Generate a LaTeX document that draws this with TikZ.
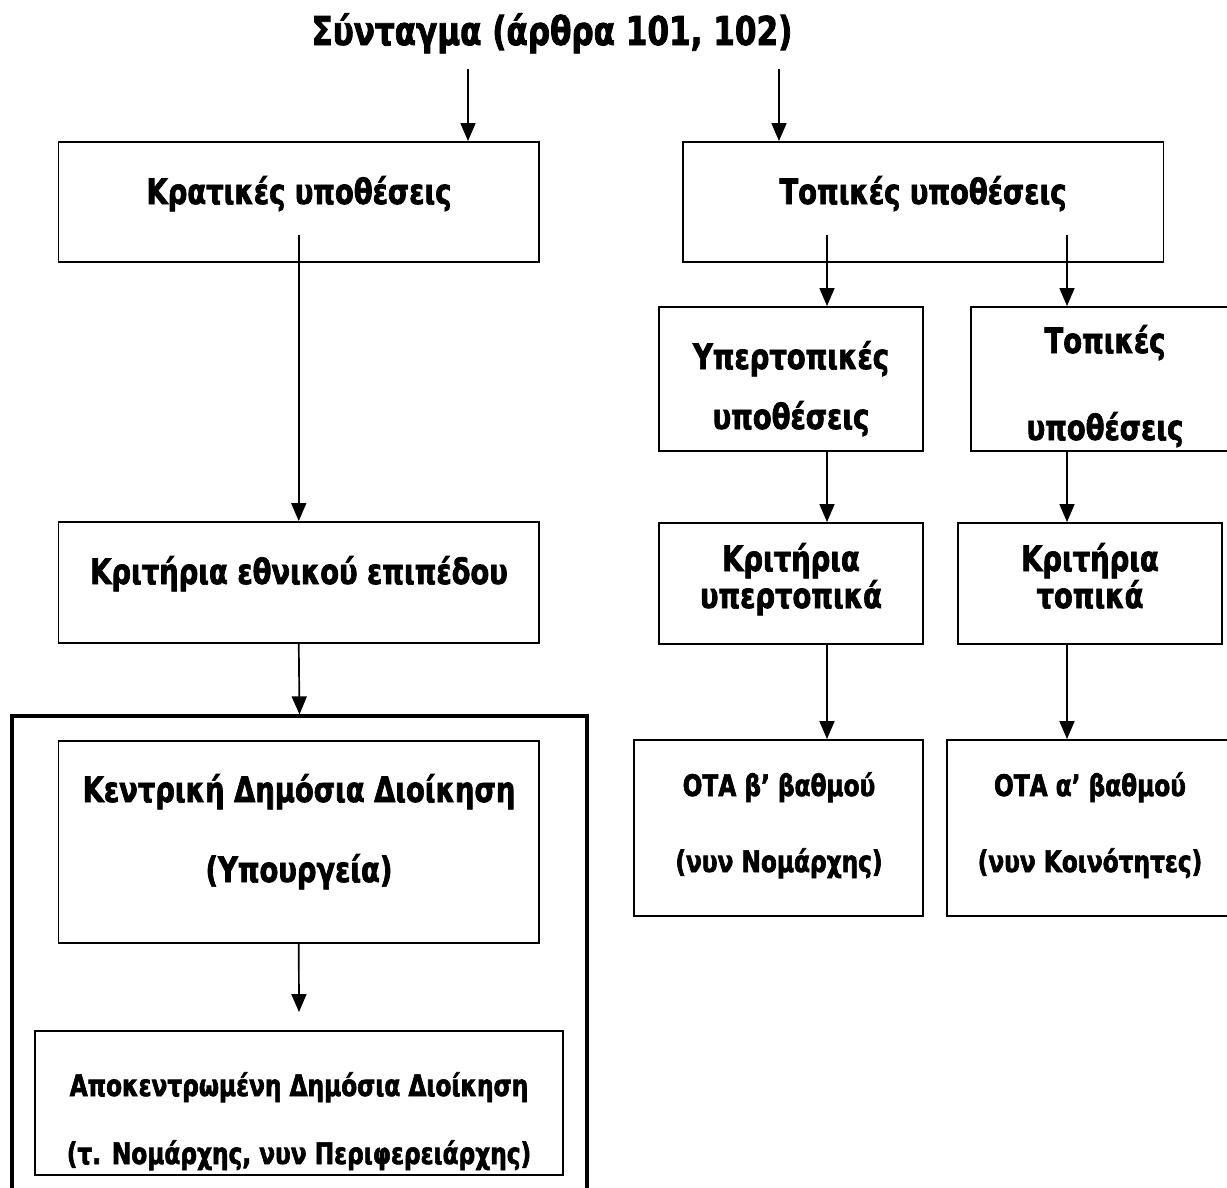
\documentclass[tikz,border=0pt]{standalone}
\usepackage{fontspec}
\setmainfont{DejaVu Sans Condensed}[FakeStretch=0.87, FakeBold=2]
\usetikzlibrary{arrows.meta}
\begin{document}
\begin{tikzpicture}[x=1pt,y=-1pt,
  box/.style={draw, line width=1.9pt, rectangle, inner sep=0pt},
  frame/.style={draw, line width=3.2pt, rectangle, inner sep=0pt},
  arr/.style={-{Triangle[length=18pt,width=15pt]}, line width=1.7pt},
  big/.style={anchor=base, inner sep=0pt, font=\bfseries\fontsize{39.7}{44}\selectfont},
  mid/.style={anchor=base, inner sep=0pt, font=\bfseries\fontsize{35}{40}\selectfont},
  small/.style={anchor=base, inner sep=0pt, font=\bfseries\fontsize{29.7}{34}\selectfont},
]
\useasboundingbox (0,0) rectangle (1227,1187);
\fill[white] (0,0) rectangle (1227,1187);
\clip (0,0) rectangle (1227,1187);

% column axes of the connectors on the right-hand side
\coordinate (colA) at (827,0);
\coordinate (colB) at (1067,0);

% title
\node[big] (title) at (552,45) {Σύνταγμα (άρθρα 101, 102)};
\coordinate (s1) at (468,69);
\coordinate (s2) at (779,69);

% boxes
\node[box, minimum width=480.5pt, minimum height=120pt] (kratikes) at (298.75,202) {};
\node[box, minimum width=480.5pt, minimum height=120pt] (topikes) at (923.25,202) {};
\node[box, minimum width=264pt, minimum height=144pt] (yper) at (791,379) {};
\node[box, minimum width=268pt, minimum height=144pt] (topl) at (1105,379) {};
\node[box, minimum width=264pt, minimum height=121pt] (krityper) at (791,583.5) {};
\node[box, minimum width=264pt, minimum height=121pt] (krittop) at (1090,583.5) {};
\node[box, minimum width=289pt, minimum height=176pt] (ota2) at (778.5,828) {};
\node[box, minimum width=287pt, minimum height=176pt] (ota1) at (1090.5,828) {};
\node[box, minimum width=480.5pt, minimum height=121pt] (ethn) at (298.75,582.5) {};
\node[frame, minimum width=575pt, minimum height=494pt] (outer) at (299.5,963) {};
\node[box, minimum width=480.5pt, minimum height=202pt] (kentr) at (298.75,842) {};
\node[box, minimum width=528pt, minimum height=144pt] (apok) at (299,1103) {};

% texts
\node[mid] (t1) at (299,204) {Κρατικές υποθέσεις};
\node[mid] (t2) at (923,204) {Τοπικές υποθέσεις};
\node[mid] (t3a) at (791,369) {Υπερτοπικές};
\node[mid] (t3b) at (791,429) {υποθέσεις};
\node[mid] (t4a) at (1105,353) {Τοπικές};
\node[mid] (t4b) at (1105,440) {υποθέσεις};
\node[mid] (t5a) at (791,571) {Κριτήρια};
\node[mid] (t5b) at (791,608) {υπερτοπικά};
\node[mid] (t6a) at (1090,571) {Κριτήρια};
\node[mid] (t6b) at (1090,608) {τοπικά};
\node[small] (t7a) at (779,796) {ΟΤΑ β’ βαθμού};
\node[small] (t7b) at (779,872) {(νυν Νομάρχης)};
\node[small] (t8a) at (1090,796) {ΟΤΑ α’ βαθμού};
\node[small] (t8b) at (1090,872) {(νυν Κοινότητες)};
\node[mid] (t9) at (299,584) {Κριτήρια εθνικού επιπέδου};
\node[mid] (t10a) at (299,802) {Κεντρική Δημόσια Διοίκηση};
\node[mid] (t10b) at (299,882) {(Υπουργεία)};
\node[small] (t11a) at (299,1096) {Αποκεντρωμένη Δημόσια Διοίκηση};
\node[small] (t11b) at (299,1164) {(τ. Νομάρχης, νυν Περιφερειάρχης)};

% connectors
\draw[arr] (s1) -- (s1 |- kratikes.north);
\draw[arr] (s2) -- (s2 |- topikes.north);
\draw[arr] ([yshift=28pt]kratikes.south) -- (ethn.north);
\draw[arr] (ethn.south) -- (outer.north);
\draw[arr] (kentr.south) -- ([yshift=18pt]apok.north);
\draw[arr] (topikes.south -| colA) ++(0,-28) -- (yper.north -| colA);
\draw[arr] (topikes.south -| colB) ++(0,-28) -- (topl.north -| colB);
\draw[arr] (yper.south -| colA) -- (krityper.north -| colA);
\draw[arr] (topl.south -| colB) -- (krittop.north -| colB);
\draw[arr] (krityper.south -| colA) -- (ota2.north -| colA);
\draw[arr] (krittop.south -| colB) -- (ota1.north -| colB);
\end{tikzpicture}
\end{document}
